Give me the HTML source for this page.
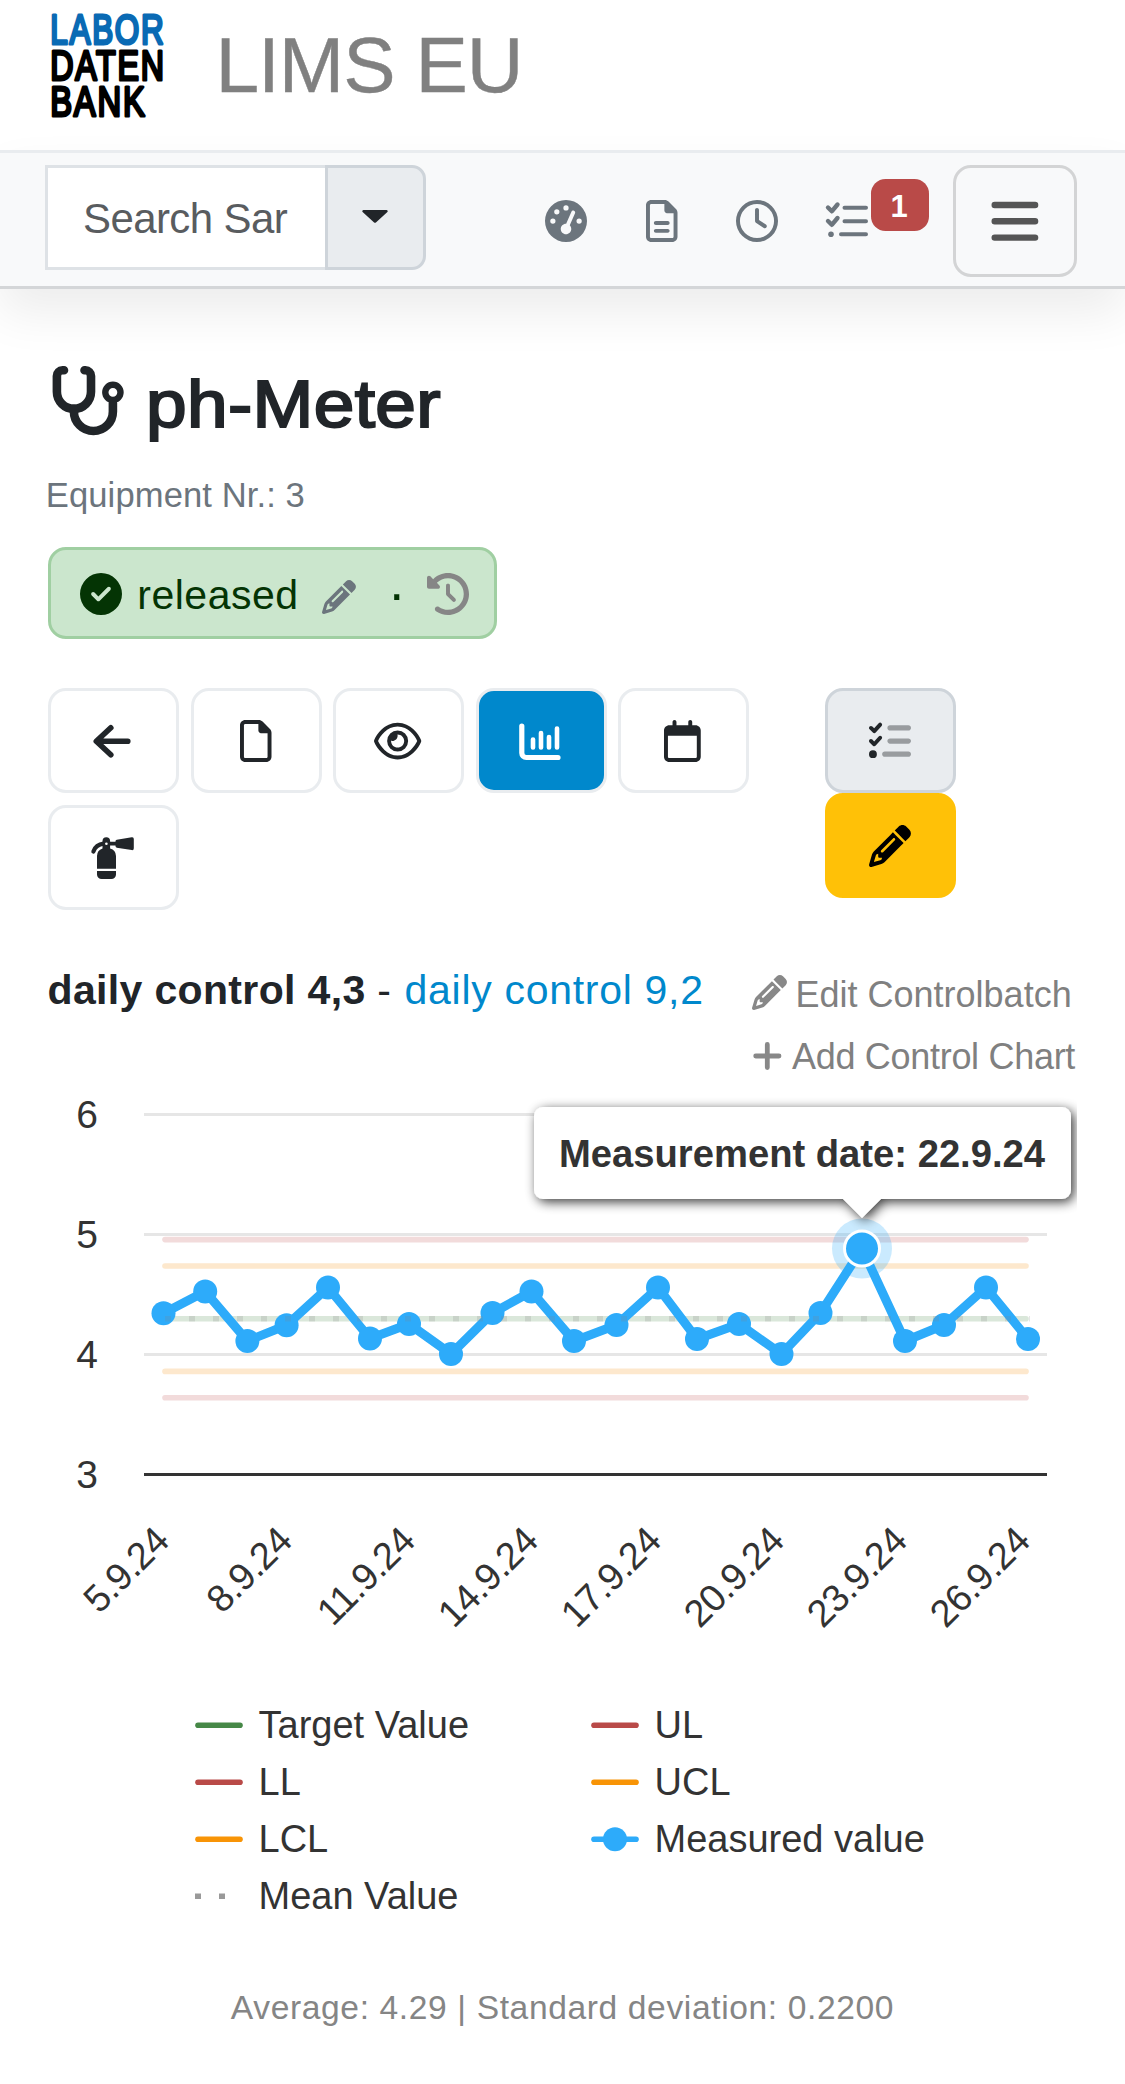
<!DOCTYPE html>
<html lang="en">
<head>
<meta charset="utf-8">
<title>LIMS EU - ph-Meter</title>
<style>
*{box-sizing:border-box;margin:0;padding:0}
html,body{width:1125px;height:2084px;background:#fff;overflow:hidden}
body{position:relative;font-family:"Liberation Sans",sans-serif;color:#212529}
.abs{position:absolute}
.t{position:absolute;white-space:nowrap;line-height:1}
/* header */
#hdr{left:0;top:0;width:1125px;height:150px;background:#fff}
#nav{left:0;top:150px;width:1125px;height:139px;background:#f8f9fa;border-top:3px solid #e9ecef;border-bottom:3px solid #d4d6d8;box-shadow:0 24px 48px rgba(0,0,0,.075)}
#navshadow{display:none}
#srch{left:45px;top:165px;width:281px;height:105px;background:#fff;border:3px solid #dee2e6;border-right:none}
#srchbtn{left:325px;top:165px;width:101px;height:105px;background:#e9ecef;border:3px solid #ced4da;border-radius:0 14px 14px 0}
#burger{left:953px;top:165px;width:124px;height:112px;border:3px solid #d3d4d5;border-radius:18px}
#badge{left:871px;top:179px;width:58px;height:52px;background:#b94a48;border-radius:14.500px;color:#fff;font-weight:bold;font-size:31px;text-align:center;line-height:56px;padding-right:2px}
/* status */
#status{left:48px;top:547.300px;width:449px;height:92.200px;background:#cbe6cd;border:3px solid #a0cfa2;border-radius:18px}
.btn{position:absolute;width:131px;height:104.500px;border:3px solid #e9ecef;border-radius:18px;background:#fff}
svg{position:absolute;overflow:visible}
</style>
</head>
<body>
<!-- HEADER -->
<div id="hdr" class="abs"></div>
<svg id="logo" style="left:50px;top:10px" width="120" height="112" viewBox="0 0 120 112">
  <g font-family="Liberation Sans, sans-serif" font-size="43.4" stroke-linejoin="round" stroke-linecap="round" stroke-width="2.8">
    <text transform="translate(0.2 34) scale(0.725 1)" fill="#0a6ab4" stroke="#0a6ab4" vector-effect="non-scaling-stroke" letter-spacing="2.4">LABOR</text>
    <text transform="translate(0.2 69.500) scale(0.742 1)" fill="#000" stroke="#000" vector-effect="non-scaling-stroke" letter-spacing="2.4">DATEN</text>
    <text transform="translate(0.2 105.600) scale(0.755 1)" fill="#000" stroke="#000" vector-effect="non-scaling-stroke" letter-spacing="2.4">BANK</text>
  </g>
</svg>
<div class="t" id="brand" style="left:215.400px;top:25.700px;font-size:78.500px;letter-spacing:-1px;color:#808080;-webkit-text-stroke:0.4px #808080">LIMS EU</div>

<!-- NAVBAR -->
<div id="nav" class="abs"></div>
<div id="navshadow" class="abs"></div>
<div id="srch" class="abs"></div>
<div class="t" style="left:83px;top:198px;font-size:42px;letter-spacing:-0.6px;color:#595c5f">Search Sar</div>
<div id="srchbtn" class="abs"></div>
<svg style="left:362px;top:210px" width="26" height="13" viewBox="0 0 26 13"><path d="M1.5 0h23a1.2 1.2 0 0 1 .9 2l-11.5 10.4a1.3 1.3 0 0 1-1.8 0L.6 2a1.2 1.2 0 0 1 .9-2z" fill="#212529"/></svg>
<!-- nav icons placeholder -->
<div id="navicons"><svg style="left:545px;top:199.8px" width="42" height="42" viewBox="0 0 512 512"><path d="M0 256a256 256 0 1 1 512 0A256 256 0 1 1 0 256zM288 96a32 32 0 1 0 -64 0 32 32 0 1 0 64 0zM256 416c35.300 0 64-28.700 64-64c0-17.400-6.900-33.100-18.100-44.600L366 161.700c5.300-12.100-.2-26.300-12.300-31.600s-26.300 .2-31.600 12.300L257.900 288c-.6 0-1.300 0-1.900 0c-35.300 0-64 28.700-64 64s28.700 64 64 64zM176 144a32 32 0 1 0 -64 0 32 32 0 1 0 64 0zM96 288a32 32 0 1 0 0-64 32 32 0 1 0 0 64zm352-32a32 32 0 1 0 -64 0 32 32 0 1 0 64 0z" fill="#6c757d" fill-rule="evenodd"/></svg><svg style="left:645.8px;top:199.8px" width="31.5" height="42" viewBox="0 0 384 512"><path d="M64 464c-8.800 0-16-7.200-16-16L48 64c0-8.800 7.200-16 16-16l160 0 0 80c0 17.700 14.300 32 32 32l80 0 0 288c0 8.800-7.200 16-16 16L64 464zM64 0C28.700 0 0 28.700 0 64L0 448c0 35.300 28.700 64 64 64l256 0c35.300 0 64-28.700 64-64l0-293.500c0-17-6.700-33.300-18.700-45.300L274.700 18.700C262.700 6.700 246.500 0 229.500 0L64 0zm56 256c-13.300 0-24 10.700-24 24s10.700 24 24 24l144 0c13.300 0 24-10.700 24-24s-10.700-24-24-24l-144 0zm0 96c-13.300 0-24 10.700-24 24s10.700 24 24 24l144 0c13.300 0 24-10.700 24-24s-10.700-24-24-24l-144 0z" fill="#6c757d" /></svg><svg style="left:736px;top:200.3px" width="42" height="42" viewBox="0 0 512 512"><path d="M464 256A208 208 0 1 1 48 256a208 208 0 1 1 416 0zM0 256a256 256 0 1 0 512 0A256 256 0 1 0 0 256zM232 120l0 136c0 8 4 15.500 10.700 20l96 64c11 7.400 25.900 4.400 33.300-6.700s4.400-25.900-6.700-33.300L280 243.200 280 120c0-13.300-10.700-24-24-24s-24 10.700-24 24z" fill="#6c757d" /></svg><svg style="left:824px;top:199px" width="46" height="42" viewBox="0 0 46 42"><g fill="none" stroke="#6c757d" stroke-linecap="round" stroke-linejoin="round"><path d="M20.500 8.800H42M20.500 22.300H42M17 35.200H42" stroke-width="4"/><path d="M4 8.500l3.800 3.800L13.500 5.500M4 22l3.800 3.800L13.500 19" stroke-width="4.400"/></g><circle cx="7" cy="35.200" r="2.800" fill="#6c757d"/></svg></div>
<div id="badge" class="abs">1</div>
<div id="burger" class="abs"></div>
<svg style="left:991px;top:202px" width="48" height="40" viewBox="0 0 48 40"><path d="M3.700 3h40.400M3.700 19.300h40.400M3.700 35.600h40.400" stroke="#555" stroke-width="6.400" stroke-linecap="round" fill="none"/></svg>

<!-- TITLE -->
<div id="titleicon"><svg style="left:40px;top:350px" width="100" height="100" viewBox="40 350 100 100"><g fill="none" stroke="#212529" stroke-linecap="round" stroke-linejoin="round"><path d="M64 370.300h-1.500a5.600 5.600 0 0 0 -5.600 5.600V391.800a17.050 17.050 0 0 0 34.100 0V375.900a5.600 5.600 0 0 0 -5.600 -5.600H84.500" stroke-width="8.600"/><path d="M73.900 408.800V411.500a19.500 19.500 0 0 0 39 0V403" stroke-width="8.600"/><circle cx="112.900" cy="392.300" r="7.600" stroke-width="6.400"/></g></svg></div>
<div class="t" id="title" style="left:145.500px;top:369.600px;font-size:67px;letter-spacing:0.3px;transform:scaleX(1.09);transform-origin:0 0;color:#212529;-webkit-text-stroke:2.1px #212529">ph-Meter</div>
<div class="t" id="equip" style="left:45.800px;top:478.200px;font-size:34.600px;letter-spacing:0.1px;color:#6c757d">Equipment Nr.: 3</div>

<!-- STATUS -->
<div id="status" class="abs"></div>
<div class="t" style="left:137.300px;top:575.200px;font-size:41px;letter-spacing:0.5px;color:#043404">released</div>
<div class="t" id="middot" style="left:387.800px;top:566.300px;font-size:54px;color:#043404">·</div>
<div id="statusicons"><svg style="left:80px;top:573.300px" width="42" height="42" viewBox="0 0 512 512"><path d="M256 512A256 256 0 1 0 256 0a256 256 0 1 0 0 512zM369 209L241 337c-9.400 9.400-24.600 9.400-33.900 0l-64-64c-9.400-9.400-9.400-24.600 0-33.900s24.600-9.400 33.900 0l47 47L335 175c9.400-9.400 24.600-9.400 33.900 0s9.400 24.600 0 33.900z" fill="#043404" /></svg><svg style="left:321.7px;top:580.3px" width="34" height="34" viewBox="0 0 512 512"><path d="M410.300 231l11.300-11.300-33.900-33.900-62.100-62.100L291.700 89.800l-11.300 11.300-22.600 22.600L58.600 322.900c-10.400 10.400-18 23.300-22.200 37.400L1 480.700c-2.500 8.400-.2 17.500 6.100 23.700s15.300 8.500 23.700 6.100l120.300-35.400c14.100-4.200 27-11.800 37.400-22.200L387.700 253.700 410.300 231zM160 399.400l-9.100 22.700c-4 3.100-8.500 5.400-13.300 6.900L59.400 452l23-78.100c1.400-4.900 3.800-9.400 6.900-13.300l22.700-9.100 0 32c0 8.800 7.200 16 16 16l32 0zM362.700 18.700L348.300 33.200 325.700 55.800 314.300 67.100l33.900 33.900 62.100 62.100 33.900 33.900 11.300-11.300 22.600-22.600 14.500-14.500c25-25 25-65.500 0-90.500L453.300 18.700c-25-25-65.500-25-90.500 0zm-47.400 168l-144 144c-6.200 6.200-16.400 6.200-22.600 0s-6.200-16.400 0-22.600l144-144c6.200-6.200 16.400-6.200 22.600 0s6.200 16.400 0 22.600z" fill="#6c757d" /></svg><svg style="left:427px;top:573.3px" width="42" height="42" viewBox="0 0 512 512"><path d="M75 75L41 41C25.900 25.900 0 36.600 0 57.900L0 168c0 13.300 10.700 24 24 24l110.100 0c21.400 0 32.100-25.900 17-41l-30.800-30.800C155 85.500 203 64 256 64c106 0 192 86 192 192s-86 192-192 192c-40.800 0-78.600-12.700-109.700-34.400c-14.500-10.100-34.400-6.600-44.600 7.900s-6.600 34.400 7.900 44.600C151.200 495 201.700 512 256 512c141.400 0 256-114.600 256-256S397.400 0 256 0C185.300 0 121.300 28.700 75 75zm181 53c-13.300 0-24 10.700-24 24l0 104c0 6.400 2.500 12.500 7 17l72 72c9.400 9.400 24.600 9.400 33.900 0s9.400-24.600 0-33.900l-65-65 0-94.100c0-13.300-10.700-24-24-24z" fill="#868686" /></svg></div>

<!-- BUTTONS -->
<div class="btn" style="left:48.300px;top:688.200px"></div>
<div class="btn" style="left:190.700px;top:688.200px"></div>
<div class="btn" style="left:333.100px;top:688.200px"></div>
<div class="btn" style="left:475.500px;top:688.200px;background:#0088cc"></div>
<div class="btn" style="left:617.900px;top:688.200px"></div>
<div class="btn" style="left:825px;top:688px;background:#e9ecef;border-color:#ced4da"></div>
<div class="btn" style="left:825px;top:793px;background:#ffc107;border-color:#ffc107"></div>
<div class="btn" style="left:48.300px;top:805.300px"></div>
<div id="btnicons"><svg style="left:90px;top:720px" width="44" height="44" viewBox="90 720 44 44"><path d="M127.800 741.300H96.500M110.800 727.800L96.300 741.300L110.800 754.800" fill="none" stroke="#212529" stroke-width="5.600" stroke-linecap="round" stroke-linejoin="round"/></svg><svg style="left:240px;top:719.8px" width="31.5" height="42" viewBox="0 0 384 512"><path d="M320 464c8.800 0 16-7.200 16-16l0-288-80 0c-17.700 0-32-14.300-32-32l0-80L64 48c-8.800 0-16 7.200-16 16l0 384c0 8.800 7.200 16 16 16l256 0zM0 64C0 28.700 28.700 0 64 0L229.500 0c17 0 33.300 6.700 45.300 18.700l90.500 90.500c12 12 18.700 28.300 18.700 45.300L384 448c0 35.300-28.700 64-64 64L64 512c-35.300 0-64-28.700-64-64L0 64z" fill="#212529" /></svg><svg style="left:373.8px;top:720px" width="47.25" height="42" viewBox="0 0 576 512"><path d="M288 80c-65.200 0-118.800 29.600-159.900 67.700C89.600 183.500 63 226 49.400 256c13.600 30 40.200 72.500 78.600 108.300C169.200 402.400 222.800 432 288 432s118.800-29.600 159.900-67.700C486.400 328.500 513 286 526.600 256c-13.600-30-40.200-72.500-78.600-108.300C406.800 109.600 353.200 80 288 80zM95.400 112.600C142.500 68.800 207.200 32 288 32s145.500 36.800 192.600 80.600c46.800 43.500 78.100 95.400 93 131.100c3.300 7.900 3.300 16.700 0 24.600c-14.900 35.700-46.200 87.700-93 131.100C433.500 443.200 368.800 480 288 480s-145.500-36.800-192.600-80.600C48.600 356 17.300 304 2.500 268.300c-3.300-7.900-3.300-16.700 0-24.600C17.300 208 48.600 156 95.400 112.600zM288 336c44.200 0 80-35.800 80-80s-35.800-80-80-80c-.7 0-1.300 0-2 0c1.300 5.100 2 10.500 2 16c0 35.300-28.700 64-64 64c-5.500 0-10.900-.7-16-2c0 .7 0 1.300 0 2c0 44.200 35.800 80 80 80zm0-208a128 128 0 1 1 0 256 128 128 0 1 1 0-256z" fill="#212529" /></svg><svg style="left:515px;top:718px" width="50" height="46" viewBox="515 718 50 46"><g fill="none" stroke="#fff" stroke-linecap="round" stroke-linejoin="round"><path d="M521.800 726V753a4.500 4.500 0 0 0 4.500 4.500H558" stroke-width="5.200"/><path d="M533 739.500V747.500M541 733V747.500M549 737V747.500M557 728.500V747.500" stroke-width="4.600"/></g></svg><svg style="left:664px;top:719.8px" width="36.75" height="42" viewBox="0 0 448 512"><path d="M152 24c0-13.300-10.700-24-24-24s-24 10.700-24 24l0 40L64 64C28.700 64 0 92.700 0 128l0 16 0 48L0 448c0 35.300 28.700 64 64 64l320 0c35.300 0 64-28.700 64-64l0-256 0-48 0-16c0-35.300-28.700-64-64-64l-40 0 0-40c0-13.300-10.700-24-24-24s-24 10.700-24 24l0 40L152 64l0-40zM48 192l352 0 0 256c0 8.800-7.200 16-16 16L64 464c-8.800 0-16-7.200-16-16l0-256z" fill="#212529" /></svg><svg style="left:869px;top:720.3px" width="42" height="42" viewBox="0 0 512 512"><path d="M152.100 38.200c9.900 8.900 10.700 24 1.800 33.900l-72 80c-4.400 4.900-10.600 7.800-17.200 7.900s-12.900-2.400-17.600-7L7 113C-2.300 103.600-2.300 88.400 7 79s24.600-9.400 33.900 0l22.100 22.100 55.100-61.200c8.900-9.900 24-10.700 33.900-1.800zM152.100 198.200c9.900 8.900 10.700 24 1.800 33.900l-72 80c-4.400 4.900-10.600 7.800-17.200 7.900s-12.900-2.400-17.600-7L7 273c-9.400-9.400-9.400-24.600 0-33.900s24.600-9.400 33.900 0l22.100 22.100 55.100-61.200c8.900-9.900 24-10.700 33.900-1.800zM48 368a48 48 0 1 1 0 96 48 48 0 1 1 0-96z" fill="#212529" /><path d="M224 96c0-17.700 14.300-32 32-32l224 0c17.700 0 32 14.300 32 32s-14.300 32-32 32l-224 0c-17.700 0-32-14.300-32-32zm0 160c0-17.700 14.300-32 32-32l224 0c17.700 0 32 14.300 32 32s-14.300 32-32 32l-224 0c-17.700 0-32-14.300-32-32zM160 416c0-17.700 14.300-32 32-32l288 0c17.700 0 32 14.300 32 32s-14.300 32-32 32l-288 0c-17.700 0-32-14.300-32-32z" fill="#212529" opacity="0.4"/></svg><svg style="left:869px;top:825px" width="42" height="42" viewBox="0 0 512 512"><path d="M410.300 231l11.300-11.300-33.900-33.900-62.100-62.100L291.700 89.800l-11.300 11.300-22.600 22.600L58.600 322.900c-10.400 10.400-18 23.300-22.200 37.400L1 480.700c-2.500 8.400-.2 17.500 6.100 23.700s15.300 8.500 23.700 6.100l120.300-35.400c14.100-4.200 27-11.800 37.400-22.200L387.700 253.700 410.300 231zM160 399.400l-9.100 22.700c-4 3.100-8.500 5.400-13.300 6.900L59.400 452l23-78.100c1.400-4.900 3.800-9.400 6.900-13.300l22.700-9.100 0 32c0 8.800 7.200 16 16 16l32 0zM362.700 18.700L348.300 33.200 325.700 55.800 314.300 67.100l33.900 33.900 62.100 62.100 33.900 33.900 11.300-11.300 22.600-22.600 14.500-14.500c25-25 25-65.500 0-90.500L453.300 18.700c-25-25-65.500-25-90.500 0zm-47.400 168l-144 144c-6.200 6.200-16.400 6.200-22.600 0s-6.200-16.400 0-22.600l144-144c6.200-6.200 16.400-6.200 22.600 0s6.200 16.400 0 22.600z" fill="#000" /></svg><svg style="left:85px;top:830px" width="60" height="60" viewBox="85 830 60 60"><g fill="#212529"><path d="M97 868.700V856a8 8 0 0 1 5.500 -7.600V841a3.800 3.800 0 0 1 7.600 0V848.400a8 8 0 0 1 5.900 7.600V868.700z"/><path d="M97 871.100H116V874.500a4.600 4.600 0 0 1 -4.600 4.600H101.600a4.600 4.600 0 0 1 -4.600 -4.600z"/><path d="M108 841.800H115.500V841.300a1.600 1.600 0 0 1 1.300 -1.600L131.700 837.300a1.800 1.800 0 0 1 2.100 1.800V848.300a1.800 1.800 0 0 1 -2.100 1.800L116.800 847.700a1.600 1.600 0 0 1 -1.300 -1.600V845.600H108z"/></g><path d="M103.500 843.700C98.500 844.200 95 847.200 93.400 851.500" fill="none" stroke="#212529" stroke-width="4.200" stroke-linecap="round"/><circle cx="106.400" cy="843.700" r="1.300" fill="#fff"/></svg></div>

<!-- SECTION HEAD -->
<div class="t" style="left:47.500px;top:970.300px;font-size:41px;letter-spacing:0.35px;color:#212529"><b>daily control 4,3</b> - <span style="color:#0088cc;letter-spacing:0.7px;margin-left:1.500px">daily control 9,2</span></div>
<div class="t" style="left:795.500px;top:976.500px;font-size:36px;color:#808080">Edit Controlbatch</div>
<div class="t" style="left:792px;top:1038.500px;font-size:36px;letter-spacing:-0.3px;color:#808080">Add Control Chart</div>
<div id="headicons"><svg style="left:752px;top:975.3px" width="35" height="35" viewBox="0 0 512 512"><path d="M410.300 231l11.300-11.300-33.900-33.900-62.100-62.100L291.700 89.800l-11.300 11.300-22.600 22.600L58.600 322.900c-10.400 10.400-18 23.300-22.200 37.400L1 480.700c-2.500 8.400-.2 17.500 6.100 23.700s15.300 8.500 23.700 6.100l120.300-35.400c14.100-4.200 27-11.800 37.400-22.200L387.700 253.700 410.300 231zM160 399.400l-9.100 22.700c-4 3.100-8.500 5.400-13.300 6.900L59.400 452l23-78.100c1.400-4.900 3.800-9.400 6.900-13.300l22.700-9.100 0 32c0 8.800 7.200 16 16 16l32 0zM362.700 18.700L348.300 33.200 325.700 55.800 314.300 67.100l33.900 33.900 62.100 62.100 33.900 33.900 11.300-11.300 22.600-22.600 14.500-14.500c25-25 25-65.500 0-90.500L453.300 18.700c-25-25-65.500-25-90.500 0zm-47.400 168l-144 144c-6.200 6.200-16.400 6.200-22.600 0s-6.200-16.400 0-22.600l144-144c6.200-6.200 16.400-6.200 22.600 0s6.200 16.400 0 22.600z" fill="#888" /></svg><svg style="left:750px;top:1040px" width="34" height="32" viewBox="750 1040 34 32"><path d="M755.700 1056H779M767.300 1044.400V1067.600" stroke="#888" stroke-width="4.800" stroke-linecap="round" fill="none"/></svg></div>

<!-- CHART -->
<svg id="chartsvg" style="left:0;top:1080px" width="1125" height="1004" viewBox="0 1080 1125 1004" font-family="Liberation Sans, sans-serif">
<path d="M144 1114.5H1047" stroke="#e6e6e6" stroke-width="3"/>
<path d="M144 1234.5H1047" stroke="#e6e6e6" stroke-width="3"/>
<path d="M144 1354.5H1047" stroke="#e6e6e6" stroke-width="3"/>
<path d="M144 1474.5H1047" stroke="#333" stroke-width="3"/>
<text x="98" y="1127.5" text-anchor="end" font-size="39" fill="#333">6</text>
<text x="98" y="1247.5" text-anchor="end" font-size="39" fill="#333">5</text>
<text x="98" y="1367.5" text-anchor="end" font-size="39" fill="#333">4</text>
<text x="98" y="1487.5" text-anchor="end" font-size="39" fill="#333">3</text>
<path d="M165 1318.8H1026" stroke="#dae7da" stroke-width="5.6" stroke-linecap="round" />
<path d="M165 1239.6H1026" stroke="#f2dbdb" stroke-width="5.6" stroke-linecap="round" />
<path d="M165 1397.8H1026" stroke="#f2dbdb" stroke-width="5.6" stroke-linecap="round" />
<path d="M165 1266H1026" stroke="#fde8cd" stroke-width="5.6" stroke-linecap="round" />
<path d="M165 1371.4H1026" stroke="#fde8cd" stroke-width="5.6" stroke-linecap="round" />
<polyline points="163.5,1313.2 205.2,1291.5 247.4,1340.9 286.6,1325.3 328,1287.5 370,1338.5 409,1324 451,1354 492.5,1313 531.5,1291.5 574,1341 616.5,1325 658,1287.5 697,1339 739,1324 781.5,1354 820.5,1313 862,1248.5 905,1341 944,1325 986,1287.5 1028,1339" fill="none" stroke="#2dabfa" stroke-width="9" stroke-linejoin="round" stroke-linecap="round"/>
<circle cx="163.5" cy="1313.2" r="12" fill="#2dabfa"/>
<circle cx="205.2" cy="1291.5" r="12" fill="#2dabfa"/>
<circle cx="247.4" cy="1340.9" r="12" fill="#2dabfa"/>
<circle cx="286.6" cy="1325.3" r="12" fill="#2dabfa"/>
<circle cx="328" cy="1287.5" r="12" fill="#2dabfa"/>
<circle cx="370" cy="1338.5" r="12" fill="#2dabfa"/>
<circle cx="409" cy="1324" r="12" fill="#2dabfa"/>
<circle cx="451" cy="1354" r="12" fill="#2dabfa"/>
<circle cx="492.5" cy="1313" r="12" fill="#2dabfa"/>
<circle cx="531.5" cy="1291.5" r="12" fill="#2dabfa"/>
<circle cx="574" cy="1341" r="12" fill="#2dabfa"/>
<circle cx="616.5" cy="1325" r="12" fill="#2dabfa"/>
<circle cx="658" cy="1287.5" r="12" fill="#2dabfa"/>
<circle cx="697" cy="1339" r="12" fill="#2dabfa"/>
<circle cx="739" cy="1324" r="12" fill="#2dabfa"/>
<circle cx="781.5" cy="1354" r="12" fill="#2dabfa"/>
<circle cx="820.5" cy="1313" r="12" fill="#2dabfa"/>
<circle cx="905" cy="1341" r="12" fill="#2dabfa"/>
<circle cx="944" cy="1325" r="12" fill="#2dabfa"/>
<circle cx="986" cy="1287.5" r="12" fill="#2dabfa"/>
<circle cx="1028" cy="1339" r="12" fill="#2dabfa"/>
<path d="M165 1318.8H1030" stroke="#808080" stroke-opacity="0.2" stroke-width="5.6" stroke-dasharray="6 18"/>
<circle cx="862" cy="1248.5" r="30" fill="#2dabfa" fill-opacity="0.25"/>
<circle cx="862" cy="1248.5" r="17.5" fill="#2dabfa" stroke="#fff" stroke-width="3"/>
<text transform="translate(171 1543) rotate(-45)" text-anchor="end" font-size="38" letter-spacing="-0.7" fill="#333">5.9.24</text>
<text transform="translate(294 1543) rotate(-45)" text-anchor="end" font-size="38" letter-spacing="-0.7" fill="#333">8.9.24</text>
<text transform="translate(417 1543) rotate(-45)" text-anchor="end" font-size="38" letter-spacing="-0.7" fill="#333">11.9.24</text>
<text transform="translate(540 1543) rotate(-45)" text-anchor="end" font-size="38" letter-spacing="-0.7" fill="#333">14.9.24</text>
<text transform="translate(663 1543) rotate(-45)" text-anchor="end" font-size="38" letter-spacing="-0.7" fill="#333">17.9.24</text>
<text transform="translate(786 1543) rotate(-45)" text-anchor="end" font-size="38" letter-spacing="-0.7" fill="#333">20.9.24</text>
<text transform="translate(909 1543) rotate(-45)" text-anchor="end" font-size="38" letter-spacing="-0.7" fill="#333">23.9.24</text>
<text transform="translate(1032 1543) rotate(-45)" text-anchor="end" font-size="38" letter-spacing="-0.7" fill="#333">26.9.24</text>
<path d="M198 1725.2H240" stroke="#468847" stroke-width="5.6" stroke-linecap="round"/><text x="258.5" y="1737.6" font-size="38" fill="#333">Target Value</text>
<path d="M198 1782.2H240" stroke="#b94a48" stroke-width="5.6" stroke-linecap="round"/><text x="258.5" y="1794.6" font-size="38" fill="#333">LL</text>
<path d="M198 1839.2H240" stroke="#f89406" stroke-width="5.6" stroke-linecap="round"/><text x="258.5" y="1851.6" font-size="38" fill="#333">LCL</text>
<path d="M195 1896.2H201M219 1896.2H225" stroke="#999" stroke-width="5.6"/><text x="258.5" y="1908.6" font-size="38" fill="#333">Mean Value</text>
<path d="M594 1725.2H636" stroke="#b94a48" stroke-width="5.6" stroke-linecap="round"/><text x="654.5" y="1737.6" font-size="38" fill="#333">UL</text>
<path d="M594 1782.2H636" stroke="#f89406" stroke-width="5.6" stroke-linecap="round"/><text x="654.5" y="1794.6" font-size="38" fill="#333">UCL</text>
<path d="M594 1839.2H636" stroke="#2dabfa" stroke-width="5.6" stroke-linecap="round"/><circle cx="615" cy="1839.2" r="12" fill="#2dabfa"/><text x="654.5" y="1851.6" font-size="38" fill="#333">Measured value</text>
<defs><clipPath id="tclip"><rect x="500" y="1085" width="577" height="160"/></clipPath><filter id="tsh" x="-10%" y="-30%" width="120%" height="170%"><feGaussianBlur in="SourceAlpha" stdDeviation="6"/><feOffset dx="2.5" dy="3"/><feComponentTransfer><feFuncA type="linear" slope="0.78"/></feComponentTransfer><feMerge><feMergeNode/><feMergeNode in="SourceGraphic"/></feMerge></filter></defs>
<g clip-path="url(#tclip)"><path filter="url(#tsh)" d="M543 1107H1062a9 9 0 0 1 9 9V1190a9 9 0 0 1 -9 9H881L862 1218L843 1199H543a9 9 0 0 1 -9 -9V1116a9 9 0 0 1 9 -9z" fill="#fff"/></g>
<text x="559" y="1167" font-size="38.2" font-weight="bold" fill="#333">Measurement date: 22.9.24</text>
</svg>

<!-- FOOTER -->
<div class="t" style="left:0;width:1125px;text-align:center;top:1990.900px;font-size:33.600px;letter-spacing:0.62px;color:#858585">Average: 4.29 | Standard deviation: 0.2200</div>
</body>
</html>
